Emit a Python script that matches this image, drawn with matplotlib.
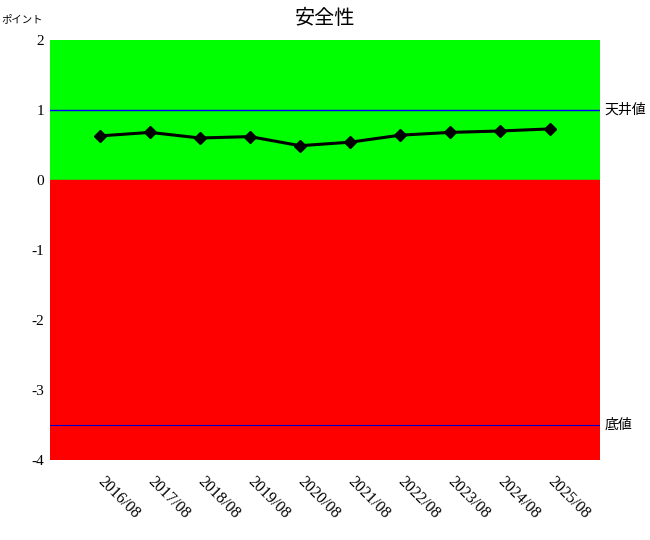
import matplotlib
matplotlib.use("Agg")
import matplotlib.pyplot as plt

# --- Data ---
periods = ["2016/08", "2017/08", "2018/08", "2019/08", "2020/08",
           "2021/08", "2022/08", "2023/08", "2024/08", "2025/08"]
points = [0.63, 0.68, 0.60, 0.62, 0.49, 0.54, 0.64, 0.68, 0.70, 0.73]
ceiling = 1.0
floor = -3.5
y_min, y_max = -4, 2

JP = ["Noto Sans CJK JP", "DejaVu Sans"]
plt.rcParams["font.family"] = ["Liberation Serif", "DejaVu Serif"]

fig = plt.figure(figsize=(6.5, 5.4), dpi=100)
ax = fig.add_axes([50 / 650, 1 - 460 / 540, 550 / 650, 420 / 540])

# background zones
ax.axhspan(0, y_max, color="#00ff00", zorder=0)
ax.axhspan(y_min, 0, color="#ff0000", zorder=0)

# reference lines
ax.axhline(ceiling, color="#0000ff", linewidth=1, zorder=1)
ax.axhline(floor, color="#0000cc", linewidth=0.8, zorder=1)

x = list(range(1, len(periods) + 1))
ax.plot(x, points, color="black", linewidth=2.2, marker="D", markersize=6, zorder=3)

ax.set_xlim(0, len(periods) + 1)
ax.set_ylim(y_min, y_max)
ax.set_yticks(range(y_min, y_max + 1))
ax.set_yticklabels([str(v) for v in range(y_min, y_max + 1)], fontsize=11)
ax.set_xticks(x)
ax.set_xticklabels(periods, fontsize=11.5, rotation=-45,
                   ha="left", va="center", rotation_mode="anchor")
ax.tick_params(axis="both", length=0)
ax.tick_params(axis="x", pad=14)
ax.tick_params(axis="y", pad=4)
for s in ax.spines.values():
    s.set_visible(False)

# labels
ax.text(1.008, (ceiling - y_min) / (y_max - y_min), "天井値", transform=ax.transAxes,
        family=JP, fontsize=10, va="center", ha="left")
ax.text(1.008, (floor - y_min) / (y_max - y_min), "底値", transform=ax.transAxes,
        family=JP, fontsize=10, va="center", ha="left")
fig.text(325 / 650, 1 - 18 / 540, "安全性", family=JP, fontsize=14.5, ha="center", va="center")
fig.text(1 / 650, 1 - 19 / 540, "ポイント", family=JP, fontsize=7.5, ha="left", va="center")

fig.savefig("out.png", dpi=100, facecolor="white")
